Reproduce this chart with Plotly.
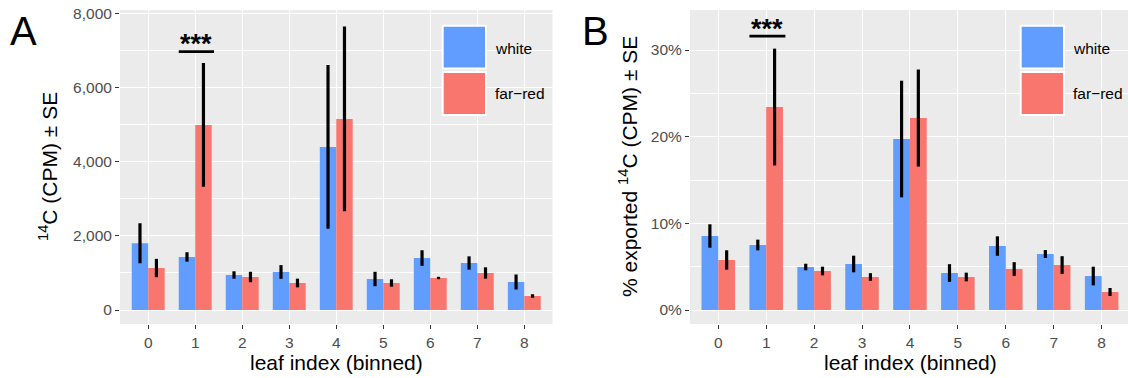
import plotly.graph_objects as go

# ---------------- data ----------------
leaf_index = [0, 1, 2, 3, 4, 5, 6, 7, 8]
leaf_labels = ["0", "1", "2", "3", "4", "5", "6", "7", "8"]
groups = ["white", "far−red"]

cpm_white = [1800, 1430, 944, 1025, 4396, 836, 1402, 1267, 755]
cpm_white_se = [540, 126, 100, 185, 2207, 194, 211, 180, 202]
cpm_farred = [1133, 4989, 890, 728, 5151, 728, 863, 998, 378]
cpm_farred_se = [247, 1667, 140, 117, 2490, 100, 32, 153, 45]

pct_white = [8.54, 7.50, 4.96, 5.31, 19.73, 4.27, 7.38, 6.46, 3.92]
pct_white_se = [1.35, 0.62, 0.38, 0.96, 6.73, 1.02, 1.12, 0.46, 1.08]
pct_farred = [5.77, 23.42, 4.50, 3.81, 22.15, 3.81, 4.73, 5.19, 2.08]
pct_farred_se = [1.12, 6.74, 0.50, 0.44, 5.60, 0.50, 0.79, 1.02, 0.46]

cpm_ticks = [0, 2000, 4000, 6000, 8000]
cpm_ticktext = ["0", "2,000", "4,000", "6,000", "8,000"]
pct_ticks = [0, 10, 20, 30]
pct_ticktext = ["0%", "10%", "20%", "30%"]

sig_label = "***"
sig_span = [0.65, 1.40]
sig_cpm = 6965
sig_pct = 31.6

# ---------------- style ----------------
W, H = 1128, 378
BLUE = "#619CFF"
RED = "#F8766D"
BG = "#EBEBEB"
FONT = "Liberation Sans, Arial, sans-serif"

def px_x(p):
    return p / W

def px_y(p):
    return 1 - p / H

fig = go.Figure()

def add_bars(xaxis, yaxis, w, wse, r, rse):
    for name, vals, se, col in [(groups[0], w, wse, BLUE), (groups[1], r, rse, RED)]:
        fig.add_trace(go.Bar(
            x=leaf_index, y=vals, name=name, marker=dict(color=col, line=dict(width=0)),
            error_y=dict(type="data", array=se, visible=True, thickness=3.2, width=0, color="black"),
            xaxis=xaxis, yaxis=yaxis, showlegend=False, offsetgroup=name,
        ))

add_bars("x", "y", cpm_white, cpm_white_se, cpm_farred, cpm_farred_se)
add_bars("x2", "y2", pct_white, pct_white_se, pct_farred, pct_farred_se)

ydom = [px_y(324), px_y(10)]
axis_common = dict(
    showgrid=True, gridcolor="white", gridwidth=1.4, zeroline=False,
    ticks="outside", ticklen=4, tickwidth=1.4, tickcolor="#333333",
    tickfont=dict(family=FONT, size=15.5, color="#4D4D4D"),
    showline=False, fixedrange=True, automargin=False,
)

fig.update_layout(
    template="none",
    width=W, height=H, margin=dict(l=0, r=0, t=0, b=0, pad=0),
    paper_bgcolor="white", plot_bgcolor=BG,
    barmode="group", bargap=0.3, bargroupgap=0,
    showlegend=False,
    xaxis=dict(domain=[px_x(120), px_x(552.5)], range=[-0.6, 8.6], tickvals=leaf_index,
               ticktext=leaf_labels, anchor="y", **axis_common),
    xaxis2=dict(domain=[px_x(690), 1.0], range=[-0.59, 8.55], tickvals=leaf_index,
                ticktext=leaf_labels, anchor="y2", **axis_common),
    yaxis=dict(domain=ydom, range=[-377, 8088], tickvals=cpm_ticks, ticktext=cpm_ticktext,
               anchor="x", minor=dict(showgrid=True, gridcolor="white", gridwidth=0.7, dtick=1000, tick0=0),
               **axis_common),
    yaxis2=dict(domain=ydom, range=[-1.615, 34.62], tickvals=pct_ticks, ticktext=pct_ticktext,
                anchor="x2", minor=dict(showgrid=True, gridcolor="white", gridwidth=0.7, dtick=5, tick0=0),
                **axis_common),
)

# significance lines
fig.add_shape(type="line", xref="x", yref="y", x0=sig_span[0], x1=sig_span[1], y0=sig_cpm, y1=sig_cpm,
              line=dict(color="black", width=2.6))
fig.add_shape(type="line", xref="x2", yref="y2", x0=sig_span[0], x1=sig_span[1], y0=sig_pct, y1=sig_pct,
              line=dict(color="black", width=2.6))
fig.add_annotation(xref="x", yref="y", x=sum(sig_span) / 2, y=sig_cpm, text="<b>" + sig_label + "</b>",
                   showarrow=False, yanchor="bottom", yshift=-9,
                   font=dict(family=FONT, size=27, color="black"))
fig.add_annotation(xref="x2", yref="y2", x=sum(sig_span) / 2, y=sig_pct, text="<b>" + sig_label + "</b>",
                   showarrow=False, yanchor="bottom", yshift=-10,
                   font=dict(family=FONT, size=27, color="black"))

# legends (drawn manually to mimic the large ggplot keys)
for kx, tx in [(442.7, 493), (1020.7, 1071)]:
    for (y0, y1, col, lab, ty) in [(25.7, 68.6, BLUE, groups[0], 48), (72, 115, RED, groups[1], 94)]:
        fig.add_shape(type="rect", xref="paper", yref="paper", x0=px_x(kx), x1=px_x(kx + 43.3),
                      y0=px_y(y1), y1=px_y(y0), fillcolor=col, line=dict(color="white", width=2))
        fig.add_annotation(xref="paper", yref="paper", x=px_x(tx), y=px_y(ty), text=lab, showarrow=False,
                           xanchor="left", yanchor="middle", font=dict(family=FONT, size=15.5, color="black"))

# axis titles
for cx in [336, 910]:
    fig.add_annotation(xref="paper", yref="paper", x=px_x(cx), y=px_y(362), text="leaf index (binned)",
                       showarrow=False, xanchor="center", yanchor="middle",
                       font=dict(family=FONT, size=21, color="black"))
fig.add_annotation(xref="paper", yref="paper", x=px_x(48), y=px_y(167), text="<sup>14</sup>C (CPM) ± SE",
                   showarrow=False, textangle=-90, xanchor="center", yanchor="middle",
                   font=dict(family=FONT, size=21, color="black"))
fig.add_annotation(xref="paper", yref="paper", x=px_x(628), y=px_y(167),
                   text="% exported <sup>14</sup>C (CPM) ± SE",
                   showarrow=False, textangle=-90, xanchor="center", yanchor="middle",
                   font=dict(family=FONT, size=21, color="black"))

# panel letters
fig.add_annotation(xref="paper", yref="paper", x=px_x(8), y=px_y(31), text="A", showarrow=False,
                   xanchor="left", yanchor="middle", font=dict(family=FONT, size=40, color="black"))
fig.add_annotation(xref="paper", yref="paper", x=px_x(580), y=px_y(31), text="B", showarrow=False,
                   xanchor="left", yanchor="middle", font=dict(family=FONT, size=40, color="black"))

fig.write_html("out.html")
